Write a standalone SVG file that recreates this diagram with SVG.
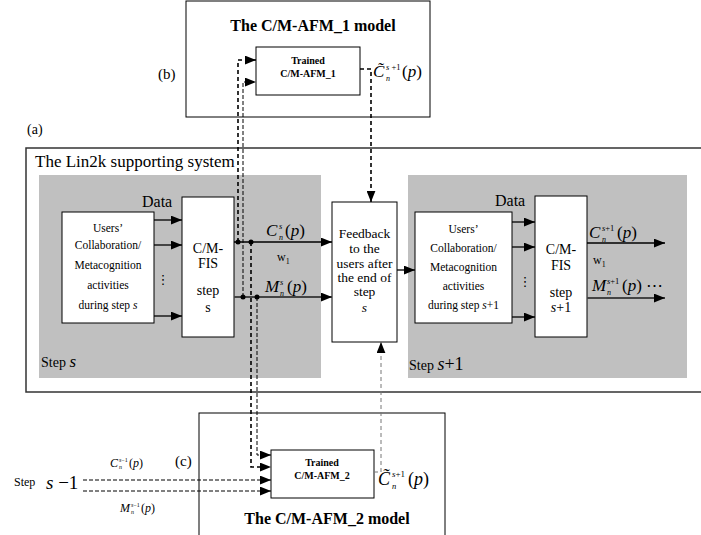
<svg xmlns="http://www.w3.org/2000/svg" width="701" height="535" viewBox="0 0 701 535" font-family="'Liberation Serif','Times New Roman',serif">
<style>
text{font-family:"Liberation Serif","Times New Roman",serif;fill:#000}
.b{font-weight:bold}
.i{font-style:italic}
.c{text-anchor:middle}
.box{fill:#fff;stroke:#000;stroke-width:1}
.gray{fill:#c0c0c0}
.solid{stroke:#000;stroke-width:1.3;fill:none}
.mline{stroke:#444;stroke-width:2;fill:none}
.dashC{stroke:#000;stroke-width:1.6;stroke-dasharray:4 3;fill:none}
.dashM{stroke:#000;stroke-width:1;stroke-dasharray:4 2;fill:none}
.dashG{stroke:#777;stroke-width:1;stroke-dasharray:4 3;fill:none}
.ut{font-size:11.5px}
.ft{font-size:14px}
</style>
<defs>
<marker id="ah" viewBox="0 0 10 8" refX="10" refY="4" markerWidth="11" markerHeight="9" markerUnits="userSpaceOnUse" orient="auto"><path d="M0,0 L10,4 L0,8 z" fill="#000"/></marker>
</defs>

<g id="lin2k">
<path d="M703,148 H26 V392 H703" fill="none" stroke="#333" stroke-width="1.5"/>
<text x="27" y="134" font-size="14">(a)</text>
<text x="35" y="167" font-size="17">The Lin2k supporting system</text>
</g>

<g id="step-s">
<rect class="gray" x="39" y="175" width="282" height="203"/>
<text x="41" y="367" font-size="14">Step <tspan class="i" font-size="17">s</tspan></text>
</g>

<g id="step-s1">
<rect class="gray" x="408" y="175" width="279" height="203"/>
<text x="409" y="370" font-size="14">Step <tspan class="i" font-size="18">s</tspan><tspan font-size="18">+1</tspan></text>
</g>

<g id="users1">
<rect class="box" x="62" y="212" width="92" height="111"/>
<text class="c ut" x="108" y="232">Users’</text>
<text class="c ut" x="108" y="249">Collaboration/</text>
<text class="c ut" x="108" y="269">Metacognition</text>
<text class="c ut" x="108" y="289">activities</text>
<text class="c ut" x="108" y="309">during step <tspan class="i">s</tspan></text>
</g>

<g id="data1">
<text x="142" y="207" font-size="16">Data</text>
<text x="163" y="284" font-size="13" class="c" style="font-family:'DejaVu Sans',sans-serif">⋮</text>
</g>

<g id="fis1">
<rect class="box" x="182" y="197" width="52" height="140"/>
<text class="c ft" x="208" y="253">C/M-</text>
<text class="c ft" x="208" y="268">FIS</text>
<text class="c ft" x="208" y="295">step</text>
<text class="c ft" x="208" y="312">s</text>
</g>

<g id="feedback">
<rect class="box" x="332" y="202" width="65" height="140"/>
<text class="c" font-size="13.5" x="364.5" y="238">Feedback</text>
<text class="c" font-size="13.5" x="364.5" y="253">to the</text>
<text class="c" font-size="13.5" x="364.5" y="268">users after</text>
<text class="c" font-size="13.5" x="364.5" y="282">the end of</text>
<text class="c" font-size="13.5" x="364.5" y="296">step</text>
<text class="c i" font-size="13.5" x="364.5" y="312">s</text>
</g>

<g id="users2">
<rect class="box" x="415" y="212" width="97" height="111"/>
<text class="c ut" x="463.5" y="233">Users’</text>
<text class="c ut" x="463.5" y="252">Collaboration/</text>
<text class="c ut" x="463.5" y="271">Metacognition</text>
<text class="c ut" x="463.5" y="290">activities</text>
<text class="c ut" x="463.5" y="309">during step <tspan class="i">s</tspan>+1</text>
</g>

<g id="data2">
<text x="495" y="206" font-size="16">Data</text>
<text x="525" y="286" font-size="13" class="c" style="font-family:'DejaVu Sans',sans-serif">⋮</text>
</g>

<g id="fis2">
<rect class="box" x="535" y="196" width="52" height="141"/>
<text class="c ft" x="561" y="254">C/M-</text>
<text class="c ft" x="561" y="270">FIS</text>
<text class="c ft" x="561" y="297">step</text>
<text class="c ft" x="561" y="312"><tspan class="i">s</tspan>+1</text>
</g>

<g id="modelB">
<rect class="box" x="186" y="1" width="244" height="116"/>
<text class="c b" x="313" y="31" font-size="16">The C/M-AFM_1 model</text>
<text x="158" y="79" font-size="15">(b)</text>
</g>

<g id="trained1">
<rect class="box" x="256" y="47" width="104" height="48"/>
<text class="c b" x="308" y="64" font-size="10">Trained</text>
<text class="c b" x="308" y="77" font-size="10">C/M-AFM_1</text>
</g>

<g id="modelC">
<rect class="box" x="199" y="413" width="246" height="130"/>
<text class="c b" x="327" y="524" font-size="16">The C/M-AFM_2 model</text>
<text x="175" y="466" font-size="15">(c)</text>
</g>

<g id="trained2">
<rect class="box" x="271" y="450" width="103" height="48"/>
<text class="c b" x="322" y="466" font-size="10">Trained</text>
<text class="c b" x="322" y="479" font-size="10">C/M-AFM_2</text>
</g>

<g id="labels">
<text x="266" y="236" font-size="17" class="i">C</text>
<text x="279" y="229" font-size="8.5" class="i">s</text>
<text x="279" y="240" font-size="8" class="i">n</text>
<text x="285" y="236" font-size="17">(<tspan class="i">p</tspan>)</text>
<text x="277" y="261" font-size="12">w<tspan font-size="8" dy="3">1</tspan></text>
<text x="265" y="292" font-size="17" class="i">M</text>
<text x="280" y="285" font-size="8.5" class="i">s</text>
<text x="280" y="296" font-size="8" class="i">n</text>
<text x="287" y="292" font-size="17">(<tspan class="i">p</tspan>)</text>
<text x="589" y="238" font-size="17" class="i">C</text>
<text x="602" y="231" font-size="8.5"><tspan class="i">s</tspan>+1</text>
<text x="602" y="242" font-size="8" class="i">n</text>
<text x="617" y="238" font-size="17">(<tspan class="i">p</tspan>)</text>
<text x="593" y="264" font-size="12">w<tspan font-size="8" dy="3">1</tspan></text>
<text x="592" y="291" font-size="17" class="i">M</text>
<text x="607" y="284" font-size="8.5"><tspan class="i">s</tspan>+1</text>
<text x="607" y="295" font-size="8" class="i">n</text>
<text x="622" y="291" font-size="17">(<tspan class="i">p</tspan>) ⋯</text>
<text x="373" y="77" font-size="17" class="i">C̃</text>
<text x="386" y="70" font-size="8.5"><tspan class="i">s</tspan> +1</text>
<text x="386" y="81" font-size="8" class="i">n</text>
<text x="402" y="77" font-size="17">(<tspan class="i">p</tspan>)</text>
<text x="378" y="485" font-size="18" class="i">C̃</text>
<text x="392" y="477" font-size="9"><tspan class="i">s</tspan>+1</text>
<text x="392" y="489" font-size="8.5" class="i">n</text>
<text x="408" y="485" font-size="18">(<tspan class="i">p</tspan>)</text>
<text x="14" y="486" font-size="12">Step</text>
<text x="46" y="489" font-size="19"><tspan class="i">s</tspan> −1</text>
<text x="110" y="467" font-size="12" class="i">C</text>
<text x="119" y="462" font-size="6"><tspan class="i">s</tspan>−1</text>
<text x="119" y="469" font-size="6" class="i">n</text>
<text x="129" y="467" font-size="12">(<tspan class="i">p</tspan>)</text>
<text x="120" y="512" font-size="12" class="i">M</text>
<text x="131" y="507" font-size="6"><tspan class="i">s</tspan>−1</text>
<text x="131" y="514" font-size="6" class="i">n</text>
<text x="141" y="512" font-size="12">(<tspan class="i">p</tspan>)</text>
</g>

<g id="connectors">
<path class="solid" d="M154,220 H182" marker-end="url(#ah)"/>
<path class="solid" d="M154,245 H182" marker-end="url(#ah)"/>
<path class="solid" d="M154,316 H182" marker-end="url(#ah)"/>
<path class="solid" d="M234,242 H332" marker-end="url(#ah)"/>
<path class="mline" d="M234,297 H332" marker-end="url(#ah)"/>
<path class="solid" d="M397,270 H415" marker-end="url(#ah)"/>
<path class="solid" d="M512,222 H535" marker-end="url(#ah)"/>
<path class="solid" d="M512,247 H535" marker-end="url(#ah)"/>
<path class="solid" d="M512,317 H535" marker-end="url(#ah)"/>
<path class="solid" d="M587,243 H665" marker-end="url(#ah)"/>
<path class="mline" d="M587,298 H665" marker-end="url(#ah)"/>
<path class="dashC" d="M238,242 V60 H256" marker-end="url(#ah)"/>
<path class="dashM" d="M243,297 V82 H256" marker-end="url(#ah)"/>
<path class="dashC" d="M251,242 V467 H271" marker-end="url(#ah)"/>
<path class="dashM" d="M257,297 V455 H271" marker-end="url(#ah)"/>
<path class="dashC" d="M360,69 H371 V202" marker-end="url(#ah)"/>
<path class="dashG" d="M374,472 H381 V342" marker-end="url(#ah)"/>
<path class="dashM" d="M83,480 H271" marker-end="url(#ah)"/>
<path class="dashM" d="M83,491 H271" marker-end="url(#ah)"/>
<circle cx="238" cy="242" r="2.5"/>
<circle cx="251" cy="242" r="2.5"/>
<circle cx="243" cy="297" r="2.5"/>
<circle cx="257" cy="297" r="2.5"/>
</g>
</svg>
